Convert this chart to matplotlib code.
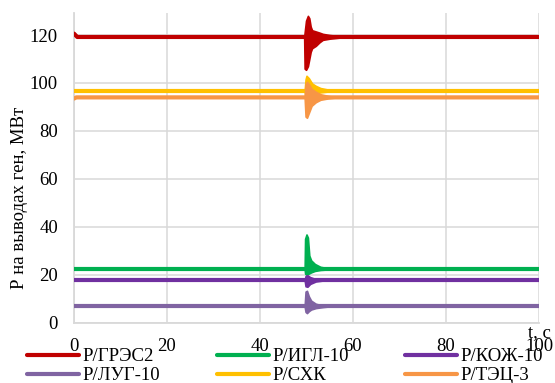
import matplotlib
matplotlib.use("Agg")
import matplotlib.pyplot as plt

plt.rcParams['font.family'] = ['Liberation Serif', 'DejaVu Serif']
plt.rcParams['font.size'] = 13.5

# ---- data ----
series_names = ["Р/ГРЭС2", "Р/ИГЛ-10", "Р/КОЖ-10", "Р/ЛУГ-10", "Р/СХК", "Р/ТЭЦ-3"]
series_colors = ["#C00000", "#00B050", "#7030A0", "#8064A2", "#FFC000", "#F79646"]

# steady-state traces (time, value)
gres_t = [0, 0.7, 100]
gres_v = [120.6, 119.2, 119.2]
igl_t = [0, 100]
igl_v = [22.4, 22.4]
koj_t = [0, 100]
koj_v = [17.7, 17.7]
lug_t = [0, 100]
lug_v = [6.8, 6.8]
sxk_t = [0, 100]
sxk_v = [96.8, 96.8]
tec_t = [0, 0.5, 100]
tec_v = [93.5, 94.0, 94.0]

# oscillation envelopes after the disturbance at t ~ 50 s
gres_env_t = [49.5, 49.6, 49.9, 50.3, 50.6, 50.9, 51.2, 52.0, 52.8, 53.5, 55.0, 57.0, 59.0]
gres_env_lo = [119.2, 106.0, 105.5, 107.0, 110.0, 113.0, 114.5, 115.5, 117.0, 118.0, 118.5, 118.9, 119.2]
gres_env_hi = [119.2, 121.0, 126.0, 128.0, 127.0, 123.5, 122.0, 121.5, 121.0, 120.5, 120.0, 119.6, 119.2]

igl_env_t = [49.6, 49.7, 50.0, 50.3, 50.6, 51.0, 51.8, 53.0, 54.5, 56.0]
igl_env_lo = [22.4, 20.5, 20.0, 20.3, 20.6, 21.0, 21.6, 22.0, 22.2, 22.4]
igl_env_hi = [22.4, 35.0, 36.8, 35.5, 28.0, 26.0, 24.5, 23.3, 22.8, 22.4]

koj_env_t = [49.6, 49.8, 50.2, 50.8, 52.0, 54.0]
koj_env_lo = [17.7, 15.2, 15.0, 16.2, 17.2, 17.7]
koj_env_hi = [17.7, 19.5, 19.8, 19.0, 18.2, 17.7]

lug_env_t = [49.6, 49.8, 50.1, 50.5, 51.0, 52.0, 53.5, 55.0]
lug_env_lo = [6.8, 4.5, 4.0, 4.8, 5.5, 6.1, 6.5, 6.8]
lug_env_hi = [6.8, 13.0, 13.3, 11.0, 9.2, 7.9, 7.2, 6.8]

sxk_env_t = [49.6, 49.8, 50.0, 50.5, 51.2, 52.0, 53.0, 54.5, 56.0]
sxk_env_lo = [96.8, 93.5, 93.5, 94.5, 95.3, 95.7, 96.1, 96.4, 96.8]
sxk_env_hi = [96.8, 101.5, 103.0, 102.0, 99.8, 98.8, 97.9, 97.3, 96.8]

tec_env_t = [49.6, 49.8, 50.1, 50.5, 51.1, 52.0, 53.0, 54.7, 56.5]
tec_env_lo = [94.0, 86.0, 85.5, 87.5, 90.5, 92.0, 93.0, 93.6, 94.0]
tec_env_hi = [94.0, 99.5, 100.5, 99.5, 97.5, 96.3, 95.3, 94.6, 94.0]

x_ticks = [0, 20, 40, 60, 80, 100]
y_ticks = [0, 20, 40, 60, 80, 100, 120]
y_label = "Р на выводах ген, МВт"
x_label = "t, c"

traces = [(gres_t, gres_v), (igl_t, igl_v), (koj_t, koj_v),
          (lug_t, lug_v), (sxk_t, sxk_v), (tec_t, tec_v)]
envs = [(gres_env_t, gres_env_lo, gres_env_hi), (igl_env_t, igl_env_lo, igl_env_hi),
        (koj_env_t, koj_env_lo, koj_env_hi), (lug_env_t, lug_env_lo, lug_env_hi),
        (sxk_env_t, sxk_env_lo, sxk_env_hi), (tec_env_t, tec_env_lo, tec_env_hi)]

# ---- figure ----
fig = plt.figure(figsize=(5.55, 3.83), dpi=100)
ax = fig.add_axes([74/555, 1 - 322.7/383, 465/555, (322.7 - 13)/383])

handles = []
for i, (name, col, (t, v), (et, elo, ehi)) in enumerate(zip(series_names, series_colors, traces, envs)):
    z = 3 + i
    h, = ax.plot(t, v, color=col, lw=3.0, label=name, solid_capstyle='round', zorder=z)
    ax.fill_between(et, elo, ehi, color=col, lw=1.2, zorder=z)
    handles.append(h)

ax.set_xlim(0, 100)
ax.set_ylim(0, 129.2)
ax.set_xticks(x_ticks)
ax.set_yticks(y_ticks)
ax.grid(True, color="#D9D9D9", lw=1.1, zorder=0)
ax.set_axisbelow(True)
for s in ["top", "right"]:
    ax.spines[s].set_visible(False)
for s in ["left", "bottom"]:
    ax.spines[s].set_color("#D9D9D9")
    ax.spines[s].set_linewidth(1.3)
ax.tick_params(axis='x', length=0, pad=11)
ax.tick_params(axis='y', length=0, pad=11.5)

ax.set_xlabel(x_label)
ax.xaxis.set_label_coords(1.0, -0.004)
fig.text(20/555, 1 - 198/383, y_label, rotation=90, ha='center', va='center')

# legend laid out row by row (matplotlib fills columns first)
order = [0, 3, 1, 4, 2, 5]
leg = fig.legend([handles[k] for k in order], [series_names[k] for k in order],
                 loc='upper left', bbox_to_anchor=(27/555, 1 - 348/383), ncol=3,
                 frameon=False, handlelength=2.77, handletextpad=0.2,
                 columnspacing=3.0, labelspacing=0.1, borderpad=0, borderaxespad=0)
for h in leg.get_lines():
    h.set_linewidth(3.0)

fig.savefig("out.png", dpi=100)
